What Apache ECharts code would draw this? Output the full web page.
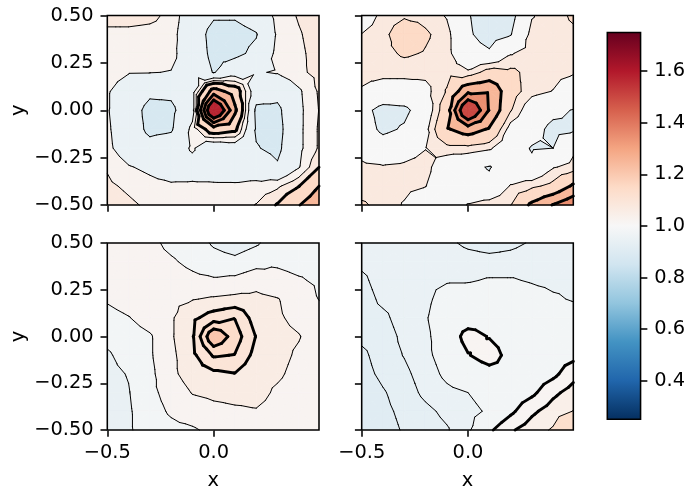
<!DOCTYPE html>
<html><head><meta charset="utf-8">
<script src="https://cdn.jsdelivr.net/npm/echarts@6/dist/echarts.min.js"></script>
<style>html,body{margin:0;padding:0;background:#fff}#c{width:688px;height:491px}</style>
</head><body><div id="c"></div>
<script>
// grid node coordinates (rows run from y = 0.5 at top down to y = -0.5)
const xs = [-0.5, -0.4, -0.3, -0.2, -0.1, 0, 0.1, 0.2, 0.3, 0.4, 0.5];
const ys = [0.5, 0.4, 0.3, 0.2, 0.1, 0, -0.1, -0.2, -0.3, -0.4, -0.5];

const panel1 = [
  [1.08, 1.08, 1.07, 1.03, 0.955, 0.91, 0.91, 0.94, 1.02, 1.055, 1.08],
  [1.03, 1.03, 1.025, 1.02, 0.95, 0.87, 0.87, 0.895, 1.01, 1.045, 1.075],
  [1.03, 1.025, 1.02, 1.015, 0.96, 0.875, 0.88, 0.92, 1.02, 1.04, 1.07],
  [1.02, 1.003, 1.002, 0.998, 0.97, 0.895, 0.96, 0.995, 1.005, 1.04, 1.065],
  [1.005, 0.97, 0.92, 0.92, 0.97, 1.25, 1.15, 0.95, 0.93, 0.99, 1.06],
  [1.005, 0.95, 0.87, 0.88, 0.97, 1.58, 1.22, 0.88, 0.88, 0.985, 1.055],
  [1.01, 0.95, 0.88, 0.89, 1.02, 1.15, 1.12, 0.89, 0.87, 0.985, 1.06],
  [1.015, 0.96, 0.93, 0.95, 1.01, 0.93, 0.95, 0.905, 0.88, 0.985, 1.06],
  [1.045, 1.005, 0.985, 0.96, 0.97, 0.96, 0.955, 0.95, 0.91, 0.995, 1.105],
  [1.06, 1.04, 1.02, 1.01, 1.01, 1.01, 1.01, 1.02, 1.04, 1.097, 1.205],
  [1.08, 1.06, 1.04, 1.03, 1.02, 1.02, 1.03, 1.052, 1.105, 1.195, 1.28]
];
const panel2 = [
  [1.0, 1.07, 1.09, 1.08, 1.045, 0.955, 0.91, 0.92, 1.045, 1.08, 1.11],
  [1.052, 1.08, 1.15, 1.11, 1.07, 0.96, 0.92, 0.945, 1.07, 1.08, 1.09],
  [1.07, 1.08, 1.11, 1.095, 1.07, 0.98, 0.96, 1.045, 1.075, 1.08, 1.08],
  [1.065, 1.065, 1.065, 1.065, 1.08, 1.06, 1.13, 1.115, 1.08, 1.07, 1.055],
  [1.045, 1.02, 1.02, 1.03, 1.105, 1.28, 1.29, 1.13, 1.07, 1.048, 1.0],
  [0.98, 0.92, 0.93, 1.0, 1.15, 1.55, 1.295, 1.105, 1.0, 0.97, 0.945],
  [1.0, 0.93, 0.96, 1.03, 1.19, 1.25, 1.19, 1.02, 0.98, 0.93, 0.94],
  [1.03, 1.0, 1.02, 1.048, 1.08, 1.08, 1.06, 0.99, 0.945, 0.95, 1.04],
  [1.06, 1.055, 1.06, 1.07, 1.0, 0.97, 0.945, 0.99, 0.965, 1.045, 1.07],
  [1.07, 1.07, 1.065, 1.052, 1.0, 0.98, 0.97, 1.055, 1.085, 1.12, 1.22],
  [1.11, 1.08, 1.045, 1.0, 0.98, 1.055, 1.08, 1.098, 1.22, 1.305, 1.38]
];
const panel3 = [
  [1.02, 1.02, 1.01, 0.99, 0.98, 0.955, 0.94, 0.955, 0.98, 0.985, 0.99],
  [1.02, 1.02, 1.015, 1.005, 0.99, 0.975, 0.97, 0.985, 0.995, 0.99, 0.99],
  [1.02, 1.02, 1.02, 1.02, 1.01, 1.005, 1.01, 1.025, 1.01, 1.003, 0.995],
  [1.005, 1.02, 1.025, 1.03, 1.038, 1.045, 1.05, 1.05, 1.042, 1.02, 0.998],
  [0.985, 0.998, 1.02, 1.035, 1.07, 1.1, 1.118, 1.06, 1.045, 1.03, 1.015],
  [0.97, 0.98, 0.995, 1.035, 1.075, 1.2, 1.14, 1.078, 1.05, 1.042, 1.02],
  [0.955, 0.975, 0.995, 1.03, 1.07, 1.125, 1.118, 1.065, 1.05, 1.035, 1.02],
  [0.95, 0.962, 0.99, 1.03, 1.06, 1.07, 1.078, 1.05, 1.045, 1.03, 1.02],
  [0.945, 0.958, 0.99, 1.015, 1.042, 1.048, 1.05, 1.05, 1.035, 1.025, 1.02],
  [0.94, 0.955, 0.985, 1.005, 1.02, 1.03, 1.035, 1.038, 1.03, 1.02, 1.02],
  [0.935, 0.955, 0.98, 0.99, 0.995, 1.01, 1.02, 1.025, 1.025, 1.02, 1.02]
];
const panel4 = [
  [0.95, 0.95, 0.95, 0.95, 0.945, 0.935, 0.93, 0.935, 0.942, 0.95, 0.955],
  [0.945, 0.95, 0.955, 0.955, 0.955, 0.95, 0.948, 0.948, 0.952, 0.955, 0.955],
  [0.935, 0.95, 0.955, 0.957, 0.958, 0.958, 0.962, 0.962, 0.958, 0.955, 0.955],
  [0.93, 0.945, 0.95, 0.955, 0.97, 0.975, 0.975, 0.975, 0.97, 0.963, 0.958],
  [0.93, 0.935, 0.95, 0.958, 0.975, 0.98, 0.985, 0.985, 0.98, 0.975, 0.97],
  [0.925, 0.93, 0.945, 0.955, 0.975, 1.014, 0.998, 0.985, 0.982, 0.98, 0.975],
  [0.915, 0.93, 0.941, 0.955, 0.97, 0.998, 1.016, 0.988, 0.99, 0.985, 0.991],
  [0.912, 0.925, 0.935, 0.95, 0.965, 0.975, 0.986, 0.99, 0.98, 0.992, 1.021],
  [0.905, 0.918, 0.93, 0.945, 0.955, 0.96, 0.975, 0.98, 0.9925, 1.023, 1.043],
  [0.905, 0.915, 0.925, 0.935, 0.945, 0.95, 0.965, 0.993, 1.024, 1.044, 1.062],
  [0.905, 0.912, 0.922, 0.93, 0.938, 0.955, 0.994, 1.026, 1.045, 1.064, 1.119]
];

// contour levels per panel (fill boundaries; interior ones drawn as lines) and which are drawn thick
const levels1 = [0.85, 0.9, 1.0, 1.05, 1.1, 1.2, 1.3, 1.4, 1.75];
const thick1 = [1.1, 1.2, 1.3, 1.4];
const levels2 = [0.85, 0.95, 1.05, 1.1, 1.2, 1.3, 1.4, 1.6];
const thick2 = [1.2, 1.3, 1.4];
const levels3 = [0.9, 0.93, 0.96, 1.0, 1.04, 1.08, 1.12, 1.16, 1.25];
const thick3 = [1.08, 1.12, 1.16];
const levels4 = [0.9, 0.92, 0.94, 0.96, 1.0, 1.03, 1.06, 1.2];
const thick4 = [1.0, 1.03];

const xTicks = [-0.5, 0];
const yTicks = [-0.5, -0.25, 0, 0.25, 0.5];
const cbarTicks = [0.4, 0.6, 0.8, 1.0, 1.2, 1.4, 1.6];
const vmin = 0.25, vmax = 1.75;
const X_MAX = 0.495;

const RDBU_R = ['#053061','#2166ac','#4393c3','#92c5de','#d1e5f0','#f7f7f7','#fddbc7','#f4a582','#d6604d','#b2182b','#67001f'];
const RGB = RDBU_R.map(h => [parseInt(h.substr(1,2),16), parseInt(h.substr(3,2),16), parseInt(h.substr(5,2),16)]);
function cmap(v) {
  let t = (v - vmin) / (vmax - vmin); t = Math.max(0, Math.min(1, t));
  const s = t * 10; let i = Math.floor(s); if (i >= 10) i = 9; const f = s - i;
  const a = RGB[i], b = RGB[i + 1];
  return 'rgb(' + a.map((c, k) => Math.round(c + (b[k] - c) * f)).join(',') + ')';
}
function clip(poly, f) {
  const out = []; const n = poly.length;
  for (let i = 0; i < n; i++) {
    const a = poly[i], b = poly[(i + 1) % n]; const fa = f(a), fb = f(b);
    if (fa >= 0) out.push(a);
    if ((fa >= 0) !== (fb >= 0)) { const t = fa / (fa - fb); out.push([a[0] + (b[0]-a[0])*t, a[1] + (b[1]-a[1])*t, a[2] + (b[2]-a[2])*t]); }
  }
  return out;
}
function triangles(grid) {
  const tris = [];
  for (let r = 0; r < ys.length - 1; r++) for (let c = 0; c < xs.length - 1; c++) {
    const p00 = [xs[c], ys[r], grid[r][c]], p01 = [xs[c+1], ys[r], grid[r][c+1]];
    const p11 = [xs[c+1], ys[r+1], grid[r+1][c+1]], p10 = [xs[c], ys[r+1], grid[r+1][c]];
    const ctr = [(xs[c]+xs[c+1])/2, (ys[r]+ys[r+1])/2, (p00[2]+p01[2]+p11[2]+p10[2])/4];
    tris.push([ctr,p00,p01],[ctr,p01,p11],[ctr,p11,p10],[ctr,p10,p00]);
  }
  return tris;
}
function bands(grid, levels) {
  const tris = triangles(grid); const out = [];
  for (let k = 0; k < levels.length - 1; k++) {
    const lo = k === 0 ? -Infinity : levels[k];
    const hi = k === levels.length - 2 ? Infinity : levels[k+1];
    const color = cmap((levels[k] + levels[k+1]) / 2);
    for (const t of tris) {
      const mn = Math.min(t[0][2], t[1][2], t[2][2]), mx = Math.max(t[0][2], t[1][2], t[2][2]);
      if (mx < lo || mn > hi) continue;
      let p = t;
      if (lo > -Infinity) p = clip(p, q => q[2] - lo);
      if (p.length < 3) continue;
      if (hi < Infinity) p = clip(p, q => hi - q[2]);
      if (p.length < 3) continue;
      p = clip(p, q => X_MAX - q[0]);
      if (p.length < 3) continue;
      out.push({ pts: p.map(q => [q[0], q[1]]), color });
    }
  }
  return out;
}
function isolines(grid, level) {
  const segs = [];
  for (const t of triangles(grid)) {
    const pts = [];
    for (let i = 0; i < 3; i++) {
      const a = t[i], b = t[(i+1)%3];
      if ((a[2] < level) !== (b[2] < level)) { const u = (level - a[2]) / (b[2] - a[2]); pts.push([a[0] + (b[0]-a[0])*u, a[1] + (b[1]-a[1])*u]); }
    }
    if (pts.length !== 2) continue;
    let [p, q] = pts;
    if (p[0] > X_MAX && q[0] > X_MAX) continue;
    if (p[0] > X_MAX || q[0] > X_MAX) {
      if (p[0] > X_MAX) { const tmp = p; p = q; q = tmp; }
      const u = (X_MAX - p[0]) / (q[0] - p[0]); q = [X_MAX, p[1] + (q[1]-p[1])*u];
    }
    segs.push([p, q]);
  }
  return segs;
}

const panels = [
  { grid: panel1, levels: levels1, thick: thick1 },
  { grid: panel2, levels: levels2, thick: thick2 },
  { grid: panel3, levels: levels3, thick: thick3 },
  { grid: panel4, levels: levels4, thick: thick4 }
];
panels.forEach(p => {
  p.fills = bands(p.grid, p.levels);
  p.thin = []; p.thk = [];
  p.levels.slice(1, -1).forEach(L => {
    const segs = isolines(p.grid, L);
    if (p.thick.indexOf(L) >= 0) p.thk.push(...segs); else p.thin.push(...segs);
  });
});

const FONT = 'DejaVu Sans', FS = 19.4, TICKLEN = 6.8, LW = 1.55;
const gridsPx = [
  { left: 107.3, top: 15.5, width: 211.7, height: 189.5 },
  { left: 361.7, top: 15.5, width: 211.6, height: 189.5 },
  { left: 107.3, top: 243, width: 211.7, height: 189 },
  { left: 361.7, top: 243, width: 211.6, height: 189 },
  { left: 607.3, top: 32.5, width: 34.4, height: 386.8 }
];
const fmtX = v => (v < 0 ? '\u2212' : '') + Math.abs(v).toFixed(1);
const fmtY = v => (v < 0 ? '\u2212' : '') + Math.abs(v).toFixed(2);
const txt = { fontFamily: FONT, fontSize: FS, color: '#000' };

const grid = gridsPx.map(g => Object.assign({ show: true, borderColor: '#000', borderWidth: LW, backgroundColor: 'transparent', z: 10, containLabel: false }, g));
const xAxis = [], yAxis = [], series = [];
[0,1,2,3].forEach(i => {
  const showX = i >= 2, showY = i % 2 === 0;
  xAxis.push({
    gridIndex: i, type: 'value', min: -0.5, max: X_MAX, position: 'bottom',
    axisLine: { show: false, onZero: false }, splitLine: { show: false },
    axisTick: { show: true, customValues: xTicks, length: TICKLEN, lineStyle: { color: '#000', width: LW } },
    axisLabel: Object.assign({ show: showX, customValues: xTicks, formatter: fmtX, margin: 13.6 }, txt),
    name: showX ? 'x' : '', nameLocation: 'middle', nameGap: 41, nameTextStyle: txt
  });
  yAxis.push({
    gridIndex: i, type: 'value', min: -0.5, max: 0.5, position: 'left',
    axisLine: { show: false, onZero: false }, splitLine: { show: false },
    axisTick: { show: true, customValues: yTicks, length: TICKLEN, lineStyle: { color: '#000', width: LW } },
    axisLabel: Object.assign({ show: showY, customValues: yTicks, formatter: fmtY, margin: 13.6 }, txt),
    name: showY ? 'y' : '', nameLocation: 'middle', nameGap: 79, nameTextStyle: txt
  });
  const P = panels[i];
  series.push({
    type: 'custom', coordinateSystem: 'cartesian2d', xAxisIndex: i, yAxisIndex: i,
    data: [[0, 0]], silent: true, z: 2, animation: false,
    renderItem: (params, api) => {
      const children = [];
      P.fills.forEach(f => children.push({ type: 'polygon', shape: { points: f.pts.map(q => api.coord(q)) }, style: { fill: f.color, stroke: f.color, lineWidth: 0.8 } }));
      P.thin.forEach(s => { const a = api.coord(s[0]), b = api.coord(s[1]); children.push({ type: 'line', shape: { x1: a[0], y1: a[1], x2: b[0], y2: b[1] }, style: { stroke: '#000', lineWidth: 1.0, lineCap: 'round' } }); });
      P.thk.forEach(s => { const a = api.coord(s[0]), b = api.coord(s[1]); children.push({ type: 'line', shape: { x1: a[0], y1: a[1], x2: b[0], y2: b[1] }, style: { stroke: '#000', lineWidth: 2.9, lineCap: 'round' } }); });
      return { type: 'group', children };
    }
  });
});
// colorbar
xAxis.push({ gridIndex: 4, type: 'value', min: 0, max: 1, show: false });
yAxis.push({
  gridIndex: 4, type: 'value', min: vmin, max: vmax, position: 'right',
  axisLine: { show: false, onZero: false }, splitLine: { show: false },
  axisTick: { show: true, customValues: cbarTicks, length: TICKLEN, lineStyle: { color: '#000', width: LW } },
  axisLabel: Object.assign({ customValues: cbarTicks, formatter: v => v.toFixed(1), margin: 13.6 }, txt)
});
series.push({
  type: 'custom', coordinateSystem: 'cartesian2d', xAxisIndex: 4, yAxisIndex: 4,
  data: [[0.5, 1]], silent: true, z: 2, animation: false,
  renderItem: (params, api) => {
    const a = api.coord([0, vmax]), b = api.coord([1, vmin]);
    const stops = RDBU_R.map((c, i) => ({ offset: i / 10, color: RDBU_R[10 - i] }));
    return { type: 'rect', shape: { x: a[0], y: a[1], width: b[0] - a[0], height: b[1] - a[1] },
      style: { fill: new echarts.graphic.LinearGradient(0, 0, 0, 1, stops) } };
  }
});

const chart = echarts.init(document.getElementById('c'), null, { renderer: 'canvas' });
chart.setOption({ animation: false, backgroundColor: '#fff', grid, xAxis, yAxis, series });
</script></body></html>
